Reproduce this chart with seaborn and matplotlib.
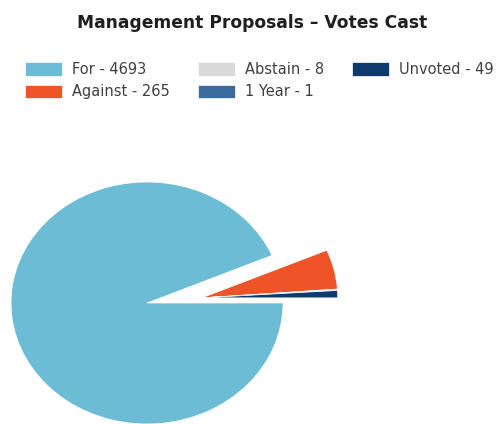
import matplotlib
matplotlib.use('Agg')
import numpy as np
import matplotlib.pyplot as plt
import seaborn as sns

# data
categories = ['For', 'Against', 'Abstain', '1 Year', 'Unvoted']
votes = [4693, 265, 8, 1, 49]
colors = ['#6cbcd6', '#ee5428', '#d9d9d9', '#3b6a9c', '#0d3b6e']
pulled_out = [False, True, True, True, True]
labels = [f'{c} - {v}' for c, v in zip(categories, votes)]

sns.set_theme(style='white')
plt.rcParams['font.family'] = ['DejaVu Sans']

fig = plt.figure(figsize=(5.04, 4.24), dpi=100)
ax = fig.add_axes([0, 0, 1, 1])

wedges, _ = ax.pie(votes, colors=colors, startangle=0, counterclock=False,
                   wedgeprops=dict(edgecolor='white', linewidth=0.5))

# the small slices are pulled out together as one block
dist, ang = 0.405, np.deg2rad(6)
for w, p in zip(wedges, pulled_out):
    if p:
        w.set_center((dist * np.cos(ang), dist * np.sin(ang)))

# the original picture is squeezed vertically and cut at the bottom
ax.set_aspect('auto')
ax.set_xlim(-147 / 136, (504 - 147) / 136)
ax.set_ylim(-(424 - 303) / 121, 303 / 121)

fig.text(0.5, 1 - 23 / 424, 'Management Proposals – Votes Cast',
         ha='center', va='center', fontsize=12.3, fontweight='bold', color='#1f1f1f')

fig.legend(wedges, labels, ncol=3, loc='upper left',
           bbox_to_anchor=(25 / 504, 1 - 62 / 424), frameon=False,
           fontsize=10.5, handlelength=2.53, handleheight=1.03, handletextpad=0.68,
           columnspacing=1.95, labelspacing=0.5, borderpad=0, borderaxespad=0,
           labelcolor='#404040')

fig.savefig('out.png', dpi=100)
